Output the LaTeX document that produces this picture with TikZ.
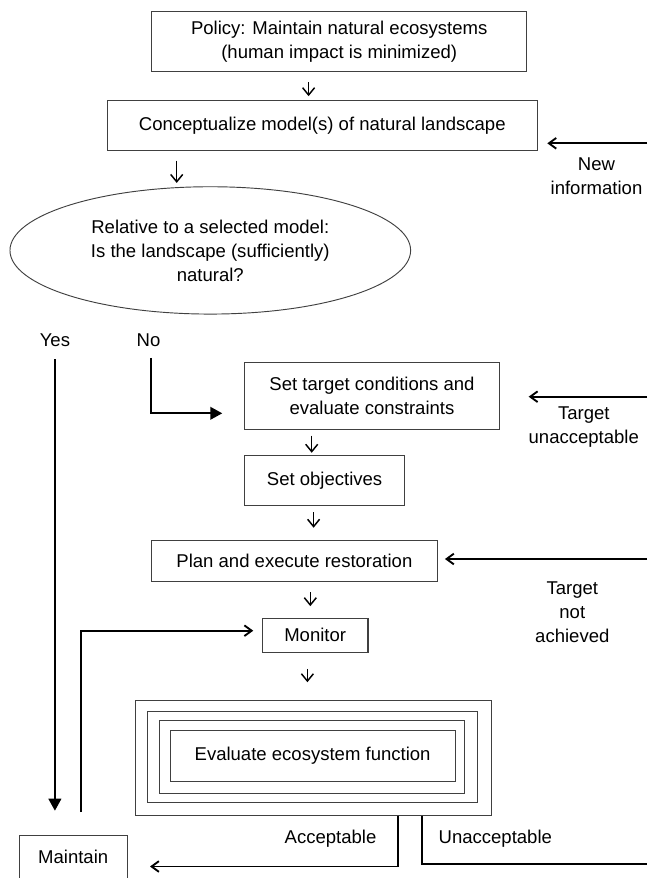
\documentclass[tikz,border=0pt]{standalone}
\usepackage{fontspec}
\setmainfont{Liberation Sans}
\usetikzlibrary{arrows.meta,shapes.geometric}

\newcommand\flowfont{\fontsize{13.9}{18}\selectfont}

\tikzset{
	box/.style={draw={rgb, 255:red, 64; green, 64; blue, 64 }, line width=0.8pt, inner sep=0pt, align=center, font=\flowfont},
	oval/.style={ellipse, draw={rgb, 255:red, 64; green, 64; blue, 64 }, line width=0.7pt, inner sep=0pt, align=center, font=\flowfont},
	lbl/.style={inner sep=0pt, align=center, font=\flowfont},
	smallarrow/.style={line width=1.1pt, -{Straight Barb[length=5.5pt,width=9pt]}},
	openarrow/.style={line width=1.4pt, -{Straight Barb[length=5.5pt,width=8pt]}},
	bigarrow/.style={line width=1.4pt, -{Triangle[length=9pt,width=9.5pt]}},
	plainline/.style={line width=1.4pt}
}

\begin{document}
\begin{tikzpicture}[x=0.75pt,y=0.75pt,yscale=-1,xscale=1]
	\clip (0,0) rectangle (647,878);

	%Shape: Rectangle
	\node [box, minimum width=281.6pt, minimum height=45pt] (policy) at (339.2,41.7) {Policy: Maintain natural ecosystems\\(human impact is minimized)};
	%Shape: Rectangle
	\node [box, minimum width=322.5pt, minimum height=37.5pt] (concept) at (322.3,125.7) {Conceptualize model(s) of natural landscape};
	%Shape: Ellipse
	\node [oval, minimum width=300.5pt, minimum height=95.5pt] (natural) at (210.3,250.4) {Relative to a selected model:\\Is the landscape (sufficiently)\\natural?};
	%Shape: Rectangle
	\node [box, minimum width=191pt, minimum height=50.5pt] (target) at (372,395.7) {Set target conditions and\\evaluate constraints};
	%Shape: Rectangle
	\node [box, minimum width=119.8pt, minimum height=37.5pt] (objectives) at (324.6,480.3) {Set objectives};
	%Shape: Rectangle
	\node [box, minimum width=214.5pt, minimum height=30.5pt] (plan) at (294.4,561) {Plan and execute restoration};
	%Shape: Rectangle
	\node [box, minimum width=79.2pt, minimum height=25.5pt] (monitor) at (315.2,635.3) {Monitor};
	%Shape: Nested rectangles
	\node [box, minimum width=267pt, minimum height=85.7pt] (evalouter) at (313.2,757.9) {};
	\node [box, minimum width=247.5pt, minimum height=68.5pt] (evalring) at (312.4,757) {};
	\node [box, minimum width=228.75pt, minimum height=54.5pt] (evalinner) at (311.8,757) {};
	\node [box, minimum width=213.75pt, minimum height=38.8pt] (evaluate) at (312.6,755.9) {Evaluate ecosystem function};
	%Shape: Rectangle (cut at the bottom)
	\node [box, anchor=north, minimum width=80.8pt, inner ysep=11.25pt, text depth=30pt] (maintain) at (73.2,835) {Maintain};

	% Text Node
	\node [lbl] (yes) at (54.9,340.7) {Yes};
	% Text Node
	\node [lbl] (no) at (148.5,340.7) {No};
	% Text Node
	\node [lbl] (newinfo) at (596.5,176.5) {New\\information};
	% Text Node
	\node [lbl] (tunacc) at (583.8,426.7) {Target\\unacceptable};
	% Text Node
	\node [lbl] (tnotach) at (572.3,612.3) {Target\\not\\achieved};
	% Text Node
	\node [lbl] (acc) at (330.5,838.3) {Acceptable};
	% Text Node
	\node [lbl] (unacc) at (495.3,838.3) {Unacceptable};

	%Bends and free ends
	\coordinate (s1) at (308.6,0);
	\coordinate (s2) at (176.7,0);
	\coordinate (s3) at (311.7,0);
	\coordinate (s4) at (313.6,0);
	\coordinate (s5) at (310.3,0);
	\coordinate (s6) at (307.4,0);
	\coordinate (newin) at (647,143.3);
	\coordinate (tuin) at (647,396.7);
	\coordinate (tnain) at (647,559);
	\coordinate (nobend) at (151.4,413.3);
	\coordinate (loopbend) at (81.3,630.7);
	\coordinate (accbend) at (398.2,866.5);
	\coordinate (unbend) at (421.7,864.3);
	\coordinate (unend) at (647,864.3);

	%Down arrows
	\draw [smallarrow, shorten <=7.5pt, shorten >=3pt] (policy.south -| s1) -- (concept.north -| s1);
	\draw [smallarrow, shorten <=7pt, shorten >=2.5pt] (concept.south -| s2) -- (natural.north -| s2);
	\draw [smallarrow, shorten <=4.3pt, shorten >=1.5pt] (target.south -| s3) -- (objectives.north -| s3);
	\draw [smallarrow, shorten <=4.8pt, shorten >=9.3pt] (objectives.south -| s4) -- (plan.north -| s4);
	\draw [smallarrow, shorten <=7.8pt, shorten >=8.7pt] (plan.south -| s5) -- (monitor.north -| s5);
	\draw [smallarrow, shorten <=12pt, shorten >=13.5pt] (monitor.south -| s6) -- (evalouter.north -| s6);

	%Feedback arrows
	\draw [openarrow, shorten >=7.1pt] (newin) -- (concept.east |- newin);
	\draw [openarrow, shorten >=21.6pt] (tuin) -- (target.east |- tuin);
	\draw [openarrow, shorten >=5.25pt] (tnain) -- (plan.east |- tnain);

	%Yes / No
	\draw [bigarrow, shorten <=9pt, shorten >=18.2pt] (yes.south) -- (yes.south |- maintain.north);
	\draw [bigarrow, shorten <=7.8pt, shorten >=16.4pt] (no.south -| nobend) -- (nobend) -- (target.west |- nobend);

	%Maintain back to Monitor
	\draw [openarrow, shorten <=17.25pt, shorten >=6.45pt] (maintain.north -| loopbend) -- (loopbend) -- (monitor.west |- loopbend);

	%Outcomes
	\draw [openarrow, shorten >=16.8pt] (evalouter.south -| accbend) -- (accbend) -- (maintain.east |- accbend);
	\draw [plainline] (evalouter.south -| unbend) -- (unbend) -- (unend);

\end{tikzpicture}
\end{document}
